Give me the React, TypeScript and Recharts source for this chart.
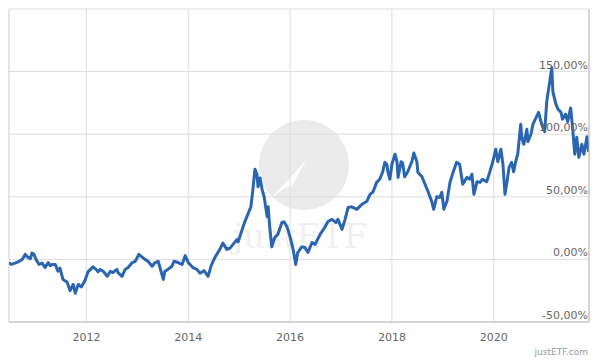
import { LineChart, Line, XAxis, YAxis, CartesianGrid, ReferenceLine } from "recharts";

// decimal years and cumulative performance in %
const years = [
  2010.48, 2010.52, 2010.6, 2010.68, 2010.74, 2010.8, 2010.84, 2010.9, 2010.93, 2010.97,
  2011.01, 2011.07, 2011.13, 2011.19, 2011.25, 2011.29, 2011.33, 2011.39, 2011.44, 2011.48,
  2011.54, 2011.62, 2011.68, 2011.74, 2011.78, 2011.84, 2011.9, 2011.97, 2012.03, 2012.13,
  2012.19, 2012.23, 2012.27, 2012.33, 2012.41, 2012.47, 2012.52, 2012.6, 2012.62, 2012.7,
  2012.76, 2012.82, 2012.9, 2012.96, 2013.03, 2013.09, 2013.15, 2013.21, 2013.29, 2013.35,
  2013.41, 2013.51, 2013.54, 2013.6, 2013.68, 2013.72, 2013.8, 2013.88, 2013.94, 2014.0,
  2014.09, 2014.17, 2014.23, 2014.31, 2014.39, 2014.45, 2014.53, 2014.62, 2014.68, 2014.76,
  2014.82, 2014.88, 2014.96, 2014.98, 2015.06, 2015.11, 2015.17, 2015.23, 2015.27, 2015.31,
  2015.35, 2015.37, 2015.41, 2015.45, 2015.49, 2015.55, 2015.57, 2015.6, 2015.64, 2015.7,
  2015.76, 2015.84, 2015.88, 2015.94, 2016.0, 2016.06, 2016.11, 2016.15, 2016.23, 2016.29,
  2016.35, 2016.43, 2016.49, 2016.59, 2016.68, 2016.74, 2016.82, 2016.9, 2016.94, 2017.02,
  2017.08, 2017.14, 2017.21, 2017.31, 2017.41, 2017.51, 2017.57, 2017.63, 2017.7, 2017.76,
  2017.82, 2017.86, 2017.9, 2017.92, 2017.96, 2018.0, 2018.06, 2018.1, 2018.12, 2018.18,
  2018.21, 2018.25, 2018.31, 2018.39, 2018.43, 2018.49, 2018.51, 2018.59, 2018.65, 2018.71,
  2018.78, 2018.82, 2018.88, 2018.94, 2018.98, 2019.02, 2019.08, 2019.14, 2019.2, 2019.27,
  2019.33, 2019.39, 2019.47, 2019.53, 2019.57, 2019.61, 2019.67, 2019.73, 2019.78, 2019.86,
  2019.92, 2019.98, 2020.04, 2020.08, 2020.14, 2020.18, 2020.22, 2020.26, 2020.3, 2020.35,
  2020.39, 2020.43, 2020.47, 2020.53, 2020.55, 2020.59, 2020.65, 2020.67, 2020.73, 2020.77,
  2020.84, 2020.88, 2020.94, 2021.0, 2021.04, 2021.08, 2021.14, 2021.16, 2021.22, 2021.26,
  2021.32, 2021.35, 2021.41, 2021.45, 2021.51, 2021.55, 2021.59, 2021.63, 2021.67, 2021.73,
  2021.77, 2021.83, 2021.86,
];

const returns = [
  -2.5, -4, -3, -1.5, 0, 4, 2, 0.5, 5, 4,
  0, -4, -3, -6.5, -2.5, -5, -4, -4, -9.5, -7,
  -16, -18, -25, -20, -27, -20, -22, -17, -10, -6,
  -8, -10, -8, -9.5, -13.5, -9.5, -10.5, -8, -10.5, -13.5,
  -8, -6.5, -2.5, -1.5, 4, 2, 0, -1.5, -5.5, -2.5,
  -1.5, -16, -9.5, -8, -5.5, -1.5, -2.5, -4, 3, -2.5,
  -6.5, -8, -11, -9, -13.5, -5, 2, 8, 13, 8,
  9, 12, 16, 14, 24, 30, 36, 42, 56, 72,
  68, 58, 65, 56, 50, 34, 42, 26, 10, 17.5,
  20, 29.5, 30, 26, 18, 8, -4, 5.5, 10, 9.5,
  5.5, 13.5, 12, 20, 25.5, 30, 32, 29.5, 32, 24,
  32, 41.5, 42, 40, 44, 46.5, 52, 54, 61.5, 64,
  70, 77.5, 76, 70, 64, 76, 84, 78, 65.5, 78,
  77, 66, 70, 78, 85, 78, 69.5, 66, 60, 54,
  46.5, 40, 50, 49.5, 53.5, 40, 46.5, 61.5, 69.5, 77.5,
  76, 60, 65.5, 64, 68, 52, 62, 61.5, 64, 62,
  69.5, 78, 88, 78, 88, 76, 52, 62, 73.5, 77.5,
  70, 78, 84, 108, 97.5, 92, 104, 94, 100, 108,
  114, 117.5, 108, 102, 126, 137, 153, 134, 124, 120,
  117.5, 112, 116, 110, 121, 104, 84, 97.5, 81.5, 92,
  84, 98, 86,
];

const yearTicks = [2012, 2014, 2016, 2018, 2020];
const percentTicks = [-50, 0, 50, 100, 150, 200];
const startYear = 2010.48;
const endYear = 2021.87;

const data = years.map((t, i) => ({ t, v: returns[i] }));

const font = "'DejaVu Sans', sans-serif";

function YearTick(props: any) {
  const { x, y, payload } = props;
  return (
    <text x={x} y={y + 19} textAnchor="middle" fontSize={11} fill="#666" fontFamily={font}>
      {payload.value}
    </text>
  );
}

function PercentTick(props: any) {
  const { y, payload } = props;
  if (payload.value === 200) return null;
  const label = payload.value.toFixed(2).replace(".", ",") + "%";
  return (
    <text x={588} y={y - 3} textAnchor="end" fontSize={11} fill="#666" fontFamily={font}>
      {label}
    </text>
  );
}

export default function App() {
  return (
    <div style={{ position: "absolute", left: 0, top: 0, width: 600, height: 360, background: "#fff" }}>
      <svg width={600} height={360} style={{ position: "absolute", left: 0, top: 0 }}>
        <circle cx={304} cy={165} r={45} fill="#ebebeb" />
        <polygon points="268,202 306,160 292,186 284,188" fill="#fff" />
        <text x={300} y={248} textAnchor="middle" fontSize={34} fill="#f0f0f0" fontFamily="'DejaVu Serif', serif">
          justETF
        </text>
        <text x={588} y={355} textAnchor="end" fontSize={9} fill="#999" fontFamily={font}>
          justETF.com
        </text>
      </svg>
      <div style={{ position: "absolute", left: 0, top: 0 }}>
        <LineChart width={600} height={360} data={data} margin={{ top: 9, right: 10, left: 9, bottom: 0 }}>
          <CartesianGrid stroke="#ddd" strokeWidth={1} />
          <ReferenceLine x={startYear} stroke="#ddd" />
          <XAxis
            dataKey="t"
            type="number"
            domain={[startYear, endYear]}
            ticks={yearTicks}
            height={38}
            tickSize={0}
            tickMargin={0}
            tickLine={false}
            axisLine={{ stroke: "#bbb" }}
            tick={<YearTick />}
            allowDataOverflow
          />
          <YAxis
            orientation="right"
            width={1}
            type="number"
            domain={[-50, 200]}
            ticks={percentTicks}
            interval={0}
            tickLine={false}
            axisLine={{ stroke: "#bbb" }}
            tick={<PercentTick />}
            allowDataOverflow
          />
          <Line
            type="linear"
            dataKey="v"
            stroke="#2a66b0"
            strokeWidth={3}
            strokeLinejoin="round"
            dot={false}
            isAnimationActive={false}
          />
        </LineChart>
      </div>
    </div>
  );
}
